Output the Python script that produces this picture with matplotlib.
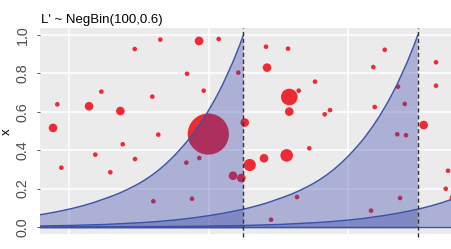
import numpy as np
import matplotlib.pyplot as plt

# bubbles: position and weight (bubble area ~ weight)
pt_x = [33.09, 29.42, 24.63, 31.94, 18.32, 22.87, 27.36, 17.71, 38.64, 41.46,
        48.24, 51.40, 36.92, 44.27, 48.39, 55.27, 39.31, 51.58, 52.93, 51.58,
        39.97, 45.19, 65.26, 72.62, 63.63, 67.17, 72.62, 63.83, 68.13, 57.42,
        56.66, 70.85, 32.80, 27.70, 23.77, 29.46, 18.90, 25.92, 32.09, 36.82,
        38.68, 45.91, 47.96, 51.21, 54.45, 43.51, 44.70, 37.63, 52.69, 48.96,
        67.07, 68.32, 74.34, 74.01, 75.20, 67.46, 63.30]
pt_y = [0.976, 0.927, 0.705, 0.679, 0.639, 0.629, 0.604, 0.516, 0.969, 0.979,
        0.939, 0.929, 0.798, 0.804, 0.830, 0.757, 0.710, 0.677, 0.710, 0.601,
        0.484, 0.544, 0.923, 0.858, 0.833, 0.731, 0.736, 0.625, 0.641, 0.609,
        0.587, 0.531, 0.481, 0.431, 0.377, 0.354, 0.309, 0.285, 0.134, 0.335,
        0.359, 0.323, 0.358, 0.373, 0.410, 0.267, 0.255, 0.147, 0.156, 0.038,
        0.483, 0.478, 0.293, 0.199, 0.151, 0.151, 0.085]
pt_w = [1, 1, 1, 1, 1, 3.5, 3.5, 3.5, 3.5, 1,
        1, 1, 1, 1, 3.5, 1, 1, 13, 1, 3.5,
        80, 3.5, 1, 1, 1, 1, 1, 1, 1, 1,
        1, 3.5, 1, 1, 1, 1, 1, 1, 1, 1,
        1, 7, 3.5, 7.5, 1, 3.5, 3.5, 1, 1, 1,
        1, 1, 1, 1, 3.5, 1, 1]

# shaded curves: value read at distance before each cut-off
curve_offset = [0, 0.5, 1, 1.5, 2, 2.5, 3, 3.5, 4, 4.5, 5, 5.5, 6, 6.5, 7, 7.5,
                8, 9, 10, 11, 12, 13, 14, 15, 16, 17, 18, 19, 20, 21.5, 23,
                24.5, 26, 28, 30, 32.5, 35, 37.5, 40, 45, 50, 55, 60, 70, 80]
curve_value = [1.00, 0.95, 0.905, 0.86, 0.82, 0.78, 0.74, 0.705, 0.67, 0.638,
               0.607, 0.577, 0.549, 0.522, 0.497, 0.472, 0.449, 0.407, 0.368,
               0.333, 0.301, 0.273, 0.248, 0.226, 0.207, 0.189, 0.173, 0.159,
               0.146, 0.127, 0.111, 0.097, 0.085, 0.071, 0.059, 0.046, 0.036,
               0.028, 0.022, 0.013, 0.008, 0.0048, 0.0029, 0.0011, 0.0004]
cutoffs = [45, 70, 95]

fill_col = (48/255, 62/255, 168/255)
line_col = '#3B52A8'

fig = plt.figure(figsize=(4.52, 2.49), dpi=100)
ax = fig.add_axes([40/452, (249-234.3)/249, 412/452, (234.3-27.7)/249])
ax.set_facecolor('#EBEBEB')
ax.set_xlim(15.84, 74.91)
ax.set_ylim(-0.038, 1.038)
for s in ax.spines.values():
    s.set_visible(False)

ax.set_xticks([20, 40, 60])
ax.set_xticklabels([])
ax.tick_params(axis='x', length=0)
ax.set_yticks([0, 0.2, 0.4, 0.6, 0.8, 1.0])
ax.set_yticklabels(['0.0', '0.2', '0.4', '0.6', '0.8', '1.0'], rotation=90,
                   va='center', family=['Liberation Sans Narrow', 'Liberation Sans'],
                   fontsize=10.3, color='#4D4D4D')
ax.tick_params(axis='y', length=2.2, width=0.6, color='#333333', pad=5)
ax.set_axisbelow(True)
ax.grid(True, color='white', lw=1.1)

ax.scatter(pt_x, pt_y, s=[11*w for w in pt_w], color='#EE2A35', linewidths=0, zorder=2)

off = np.array(curve_offset)[::-1]
val = np.array(curve_value)[::-1]
for T in cutoffs:
    xs = T - off
    ax.fill_between(xs, 0, val, color=fill_col, alpha=0.34, lw=0, zorder=3)
    ax.plot(xs, val, color=line_col, lw=1.0, zorder=4)
    ax.plot([xs[0], T], [0, 0], color=line_col, lw=1.0, zorder=4)

for T in cutoffs[:2]:
    ax.plot([T, T], [-0.052, 1.038], color='#333333', lw=1.0, ls=(0, (3, 2)),
            clip_on=False, zorder=5)

fig.text(6.5/452, 1-131.5/249, 'x', rotation=90, ha='center', va='center',
         fontsize=9.5, family='Liberation Sans')
fig.text(41/452, 1-23/249, "L' ~ NegBin(100,0.6)", fontsize=9.5,
         family='Liberation Sans', va='baseline')

fig.savefig('out.png', dpi=100)
